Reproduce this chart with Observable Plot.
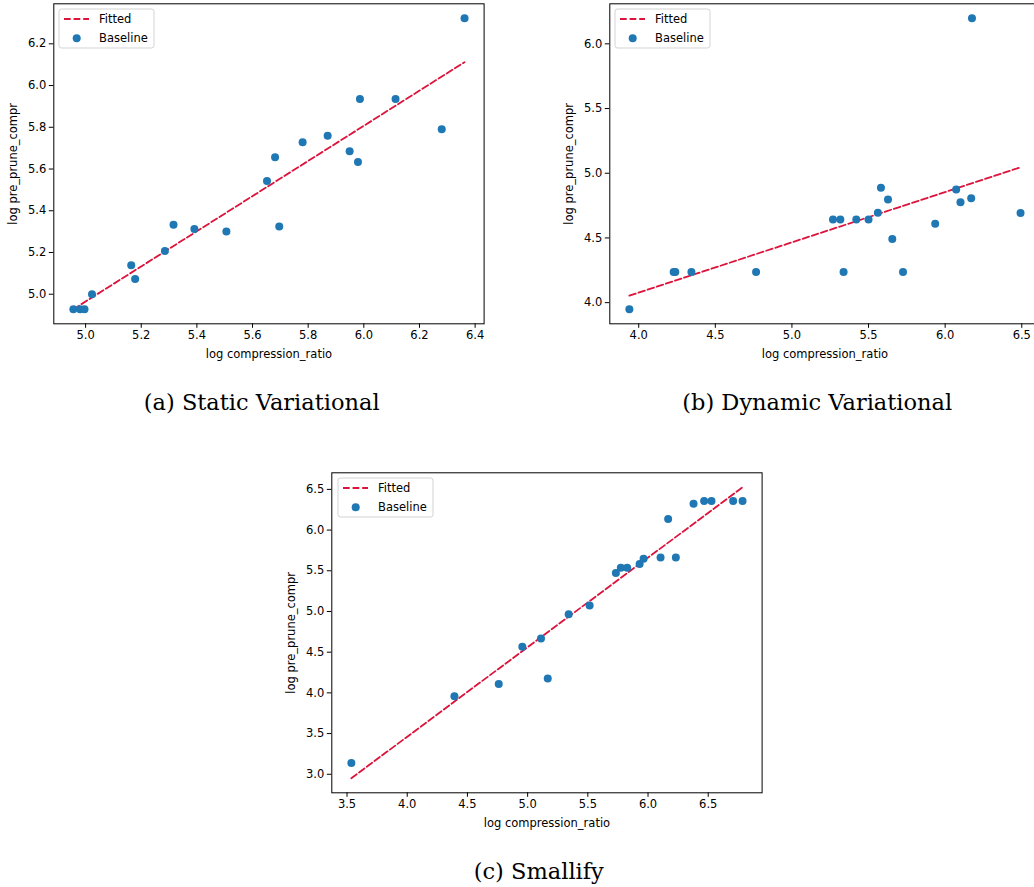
<!DOCTYPE html>
<html>
<head>
<meta charset="utf-8">
<script src="https://cdn.jsdelivr.net/npm/d3@7"></script>
<script src="https://cdn.jsdelivr.net/npm/@observablehq/plot@0.6"></script>
<style>
  html, body { margin: 0; padding: 0; background: #fff; }
  #root { position: relative; width: 1034px; height: 887px; overflow: hidden; background: #fff; }
  .panel { position: absolute; }
  .caption { position: absolute; width: 400px; text-align: center; font-family: "DejaVu Serif", serif; font-size: 22.5px; line-height: 22.5px; color: #000; white-space: nowrap; }
  .legend { position: absolute; }
</style>
</head>
<body>
<div id="root"></div>
<script>
// ---------------- data ----------------
const xLabel = "log compression_ratio";
const yLabel = "log pre_prune_compr";
const seriesNames = ["Fitted", "Baseline"];

// (a) Static Variational
const aX = [4.956, 4.980, 4.996, 5.023, 5.164, 5.178, 5.285, 5.316, 5.391, 5.506, 5.652, 5.681, 5.696, 5.780, 5.870, 5.949, 5.979, 5.986, 6.114, 6.280, 6.362];
const aY = [4.928, 4.928, 4.928, 5.000, 5.139, 5.073, 5.207, 5.333, 5.312, 5.301, 5.543, 5.656, 5.325, 5.728, 5.760, 5.685, 5.634, 5.935, 5.935, 5.790, 6.322];
const aFitX = [4.956, 6.362];
const aFitY = [4.928, 6.112];
const aXTicks = [5.0, 5.2, 5.4, 5.6, 5.8, 6.0, 6.2, 6.4];
const aYTicks = [5.0, 5.2, 5.4, 5.6, 5.8, 6.0, 6.2];

// (b) Dynamic Variational
const bX = [3.939, 4.228, 4.239, 4.344, 4.766, 5.268, 5.316, 5.337, 5.420, 5.500, 5.561, 5.581, 5.627, 5.655, 5.725, 5.935, 6.072, 6.100, 6.170, 6.175, 6.492];
const bY = [3.949, 4.237, 4.237, 4.237, 4.237, 4.643, 4.643, 4.237, 4.643, 4.643, 4.694, 4.887, 4.797, 4.491, 4.237, 4.609, 4.874, 4.776, 4.807, 6.197, 4.692];
const bFitX = [3.939, 6.492];
const bFitY = [4.054, 5.046];
const bXTicks = [4.0, 4.5, 5.0, 5.5, 6.0, 6.5];
const bYTicks = [4.0, 4.5, 5.0, 5.5, 6.0];

// (c) Smallify
const cX = [3.536, 4.392, 4.760, 4.956, 5.111, 5.167, 5.341, 5.515, 5.733, 5.774, 5.827, 5.930, 5.963, 6.104, 6.167, 6.231, 6.378, 6.466, 6.527, 6.707, 6.785];
const cY = [3.138, 3.958, 4.109, 4.566, 4.668, 4.178, 4.965, 5.072, 5.472, 5.537, 5.537, 5.582, 5.647, 5.663, 6.137, 5.663, 6.324, 6.357, 6.357, 6.357, 6.357];
const cFitX = [3.536, 6.785];
const cFitY = [2.951, 6.525];
const cXTicks = [3.5, 4.0, 4.5, 5.0, 5.5, 6.0, 6.5];
const cYTicks = [3.0, 3.5, 4.0, 4.5, 5.0, 5.5, 6.0, 6.5];

const captions = ["(a) Static Variational", "(b) Dynamic Variational", "(c) Smallify"];

// ---------------- styling ----------------
const DOT = "#1f77b4";
const FIT = "#dc143c";
const SANS = "DejaVu Sans, sans-serif";

// matplotlib-like 5% autoscale margin
function padded(vals) {
  const [lo, hi] = d3.extent(vals);
  const m = (hi - lo) * 0.05;
  return [lo - m, hi + m];
}

function panel(xs, ys, fxs, fys, xTicks, yTicks, left, top) {
  const pts = xs.map((x, i) => ({x, y: ys[i]}));
  const fit = fxs.map((x, i) => ({x, y: fys[i]}));
  const plot = Plot.plot({
    width: 500, height: 370,
    marginLeft: 53.3, marginRight: 16.4, marginTop: 3.3, marginBottom: 46.7,
    style: {fontFamily: SANS, fontSize: "11.5px", color: "#000", background: "transparent", overflow: "visible"},
    x: {domain: padded(xs)},
    y: {domain: padded(ys.concat(fys))},
    marks: [
      Plot.line(fit, {x: "x", y: "y", stroke: FIT, strokeWidth: 1.8, strokeDasharray: "6.7,2.9"}),
      Plot.dot(pts, {x: "x", y: "y", r: 4, fill: DOT, stroke: "none"}),
      Plot.frame({stroke: "#000", strokeWidth: 1}),
      Plot.axisX({ticks: xTicks, tickFormat: d3.format(".1f"), tickSize: 4.5, tickPadding: 3, fontSize: 11.5,
        label: xLabel, labelAnchor: "center", labelArrow: "none", labelOffset: 34}),
      Plot.axisY({ticks: yTicks, tickFormat: d3.format(".1f"), tickSize: 4.5, tickPadding: 3, fontSize: 11.5,
        label: yLabel, labelAnchor: "center", labelArrow: "none", labelOffset: 45})
    ]
  });
  plot.classList.add("panel");
  plot.style.left = left + "px";
  plot.style.top = top + "px";
  return plot;
}

function legend(left, top) {
  const w = 95, h = 39;
  const svg = d3.create("svg").attr("width", w + 2).attr("height", h + 2).attr("class", "legend")
    .style("left", (left - 1) + "px").style("top", (top - 1) + "px");
  const g = svg.append("g").attr("transform", "translate(1,1)");
  g.append("rect").attr("x", 0).attr("y", 0).attr("width", w).attr("height", h).attr("rx", 2.5)
    .attr("fill", "rgba(255,255,255,0.8)").attr("stroke", "#d3d3d3").attr("stroke-width", 1);
  g.append("line").attr("x1", 5).attr("x2", 30).attr("y1", 10).attr("y2", 10)
    .attr("stroke", FIT).attr("stroke-width", 1.8).attr("stroke-dasharray", "6.7,2.9");
  g.append("circle").attr("cx", 17.7).attr("cy", 29.3).attr("r", 4).attr("fill", DOT);
  g.append("text").attr("x", 40).attr("y", 14).text(seriesNames[0])
    .attr("font-family", SANS).attr("font-size", 11.5).attr("fill", "#000");
  g.append("text").attr("x", 40).attr("y", 33.4).text(seriesNames[1])
    .attr("font-family", SANS).attr("font-size", 11.5).attr("fill", "#000");
  return svg.node();
}

function caption(text, cx, baseline) {
  const d = document.createElement("div");
  d.className = "caption";
  d.textContent = text;
  d.style.left = (cx - 200) + "px";
  d.style.top = (baseline - 19) + "px";
  return d;
}

const root = document.getElementById("root");
root.appendChild(panel(aX, aY, aFitX, aFitY, aXTicks, aYTicks, 0, 0));
root.appendChild(panel(bX, bY, bFitX, bFitY, bXTicks, bYTicks, 556, 0));
root.appendChild(panel(cX, cY, cFitX, cFitY, cXTicks, cYTicks, 278.4, 469));
root.appendChild(legend(59, 9));
root.appendChild(legend(615.3, 9.3));
root.appendChild(legend(337.7, 478.3));
root.appendChild(caption(captions[0], 261.7, 410));
root.appendChild(caption(captions[1], 817.2, 410));
root.appendChild(caption(captions[2], 538.8, 879.3));
</script>
</body>
</html>
